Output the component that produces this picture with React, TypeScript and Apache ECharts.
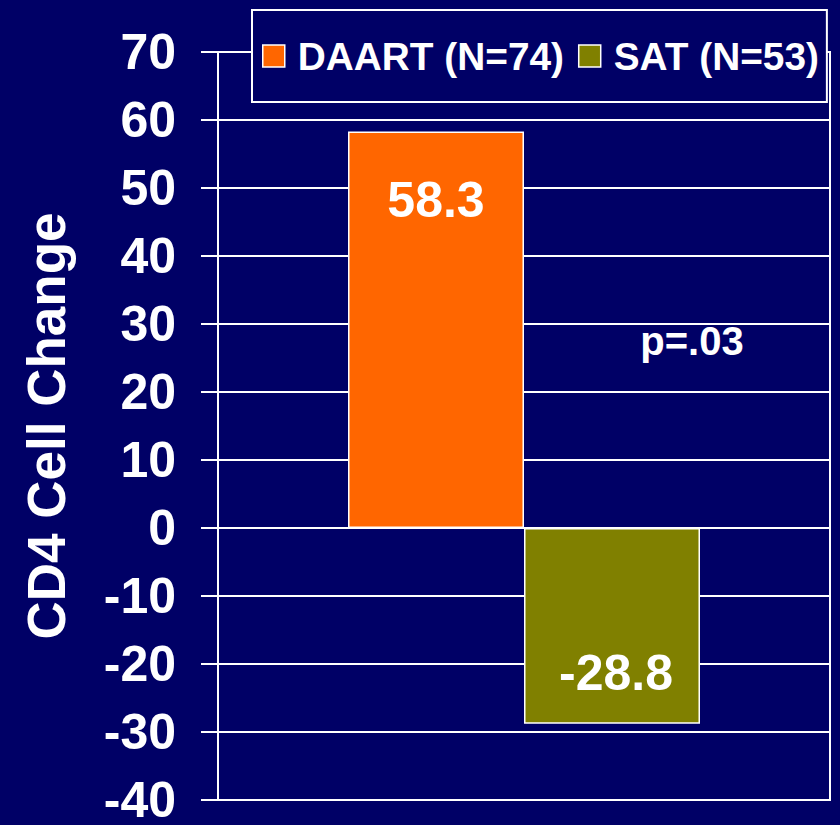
import React, { useEffect, useRef } from "react";
import * as echarts from "echarts";

const categories = ["CD4"];
const seriesNames = ["DAART (N=74)", "SAT (N=53)"];
const daartValues = [58.3];
const satValues = [-28.8];
const yMin = -40;
const yMax = 70;
const yInterval = 10;
const yTitle = "CD4 Cell Change";
const pValueText = "p=.03";

const FONT = "'Liberation Sans', Arial, Helvetica, sans-serif";
const BG = "#000066";

export default function App() {
  const ref = useRef<HTMLDivElement>(null);
  useEffect(() => {
    if (!ref.current) return;
    const chart = echarts.init(ref.current, null, { renderer: "svg" });
    const labelBase = {
      show: true,
      color: "#ffffff",
      fontFamily: FONT,
      fontWeight: "bold" as const,
      fontSize: 50,
      formatter: "{c}",
    };
    chart.setOption({
      animation: false,
      backgroundColor: BG,
      grid: {
        left: 218,
        top: 52,
        right: 10,
        bottom: 21,
        show: true,
        borderColor: "#ffffff",
        borderWidth: 2,
        backgroundColor: "transparent",
      },
      legend: {
        data: seriesNames,
        left: 252,
        top: 10,
        padding: [23, 8, 23, 10],
        itemGap: 14,
        itemWidth: 22,
        itemHeight: 22,
        icon: "rect",
        backgroundColor: BG,
        borderColor: "#ffffff",
        borderWidth: 2,
        z: 10,
        textStyle: {
          color: "#ffffff",
          fontFamily: FONT,
          fontWeight: "bold",
          fontSize: 38.8,
          lineHeight: 46,
          padding: [0, 0, 0, 8],
        },
        itemStyle: { borderColor: "#ffffff", borderWidth: 1.5 },
      },
      xAxis: {
        type: "category",
        data: categories,
        show: false,
      },
      yAxis: {
        type: "value",
        min: yMin,
        max: yMax,
        interval: yInterval,
        name: yTitle,
        nameLocation: "middle",
        nameRotate: 90,
        nameGap: 145,
        nameTextStyle: {
          color: "#ffffff",
          fontFamily: FONT,
          fontWeight: "bold",
          fontSize: 53,
        },
        axisLine: { show: true, lineStyle: { color: "#ffffff", width: 2 } },
        axisTick: {
          show: true,
          length: 17,
          lineStyle: { color: "#ffffff", width: 2 },
        },
        axisLabel: {
          color: "#ffffff",
          fontFamily: FONT,
          fontWeight: "bold",
          fontSize: 50,
          margin: 42,
        },
        splitLine: { show: true, lineStyle: { color: "#ffffff", width: 2 } },
      },
      series: [
        {
          name: seriesNames[0],
          type: "bar",
          data: daartValues,
          barWidth: 176,
          barGap: "0%",
          itemStyle: { color: "#FF6600", borderColor: "#ffffff", borderWidth: 1.5 },
          label: { ...labelBase, position: "insideTop", distance: 43 },
        },
        {
          name: seriesNames[1],
          type: "bar",
          data: satValues,
          barWidth: 176,
          barGap: "0%",
          itemStyle: { color: "#808000", borderColor: "#ffffff", borderWidth: 1.5 },
          label: { ...labelBase, position: "insideBottom", distance: 26, offset: [4, 0] },
        },
      ],
      graphic: [
        {
          type: "text",
          x: 692,
          y: 341,
          style: {
            text: pValueText,
            fill: "#ffffff",
            font: `bold 40px ${FONT}`,
            textAlign: "center",
            textVerticalAlign: "middle",
          },
        },
      ],
    });
    return () => chart.dispose();
  }, []);
  return (
    <div
      ref={ref}
      style={{ position: "fixed", left: 0, top: 0, width: 840, height: 825 }}
    />
  );
}
